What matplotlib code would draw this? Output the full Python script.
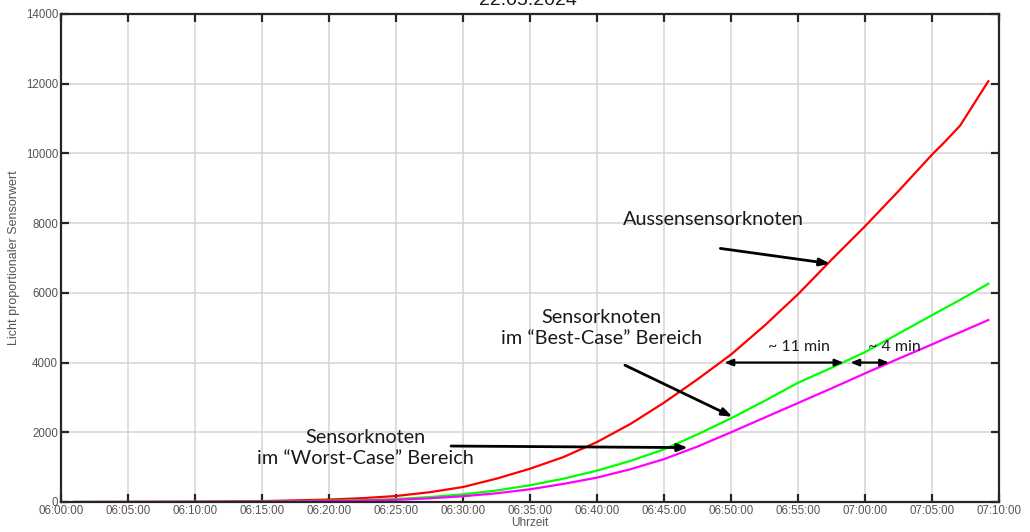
import matplotlib
matplotlib.use("Agg")
import matplotlib.pyplot as plt

# Time axis in minutes after 06:00
minutes = [1, 5, 10, 15, 20, 22.5, 25, 27.5, 30, 32.5, 35, 37.5, 40, 42.5, 45,
           47.5, 50, 52.5, 55, 57.5, 60, 62.5, 65, 66, 67.1, 69.2]

# Outdoor node
aussen = [0, 3, 8, 25, 70, 110, 172, 280, 430, 670, 955, 1290, 1720, 2240, 2850,
          3520, 4230, 5060, 5960, 6950, 7910, 8920, 9965, 10350, 10800, 12070]
# Node in best-case area
best_case = [0, 1, 4, 12, 35, 55, 85, 140, 220, 330, 480, 670, 900, 1180, 1510,
             1940, 2400, 2900, 3420, 3850, 4300, 4830, 5360, 5570, 5800, 6260]
# Node in worst-case area
worst_case = [0, 1, 3, 9, 25, 40, 62, 105, 165, 250, 365, 520, 700, 940, 1230,
              1590, 2000, 2420, 2840, 3260, 3690, 4110, 4520, 4690, 4870, 5220]

tick_minutes = list(range(0, 71, 5))
tick_labels = ["06:00:00", "06:05:00", "06:10:00", "06:15:00", "06:20:00", "06:25:00",
               "06:30:00", "06:35:00", "06:40:00", "06:45:00", "06:50:00", "06:55:00",
               "07:00:00", "07:05:00", "07:10:00"]
y_ticks = [0, 2000, 4000, 6000, 8000, 10000, 12000, 14000]

fig = plt.figure(figsize=(10.30, 5.32), dpi=100)
ax = fig.add_axes([61 / 1030, 1 - 502 / 532, 938 / 1030, 488 / 532])

ax.plot(minutes, aussen, color="#ff0000", lw=1.6)
ax.plot(minutes, best_case, color="#00ff00", lw=1.6)
ax.plot(minutes, worst_case, color="#ff00ff", lw=1.6)

ax.set_xlim(0, 70)
ax.set_ylim(0, 14000)
ax.set_xticks(tick_minutes)
ax.set_xticklabels(tick_labels)
ax.set_yticks(y_ticks)
ax.grid(True, color="#d4d4d4", lw=1.1)
ax.set_axisbelow(True)
for s in ax.spines.values():
    s.set_linewidth(1.6)
    s.set_color("#262626")
ax.tick_params(direction="in", length=6, width=1.6, color="#262626",
               labelsize=8.3, labelcolor="#555555", top=True, right=True,
               labelfontfamily="Liberation Sans", pad=2)
ax.set_xlabel("Uhrzeit", fontsize=8.5, color="#555555", family="Liberation Sans", labelpad=0)
ax.set_ylabel("Licht proportionaler Sensorwert", fontsize=9, color="#555555",
              family="Liberation Sans", labelpad=4)

fig.text(528 / 1030, 1 - 5 / 532, "22.05.2024", ha="center", va="baseline",
         fontsize=14, family="Liberation Sans", color="#1a1a1a")

note_font = dict(family="Lato", fontsize=14.3, color="#1a1a1a")
arrow = dict(arrowstyle="-|>,head_length=0.6,head_width=0.22", color="black", lw=2)

ax.text(48.7, 8118, "Aussensensorknoten", ha="center", va="center", **note_font)
ax.annotate("", xy=(57.6, 6827), xytext=(49.0, 7286), arrowprops=arrow)

ax.text(40.3, 4990, "Sensorknoten\nim \u201cBest-Case\u201d Bereich", ha="center", va="center",
        linespacing=1.3, **note_font)
ax.annotate("", xy=(50.3, 2410), xytext=(41.9, 3959), arrowprops=arrow)

ax.text(22.7, 1550, "Sensorknoten\nim \u201cWorst-Case\u201d Bereich", ha="center", va="center",
        linespacing=1.3, **note_font)
ax.annotate("", xy=(47.0, 1560), xytext=(28.9, 1606), arrowprops=arrow)

dbl = dict(arrowstyle="<|-|>,head_length=0.5,head_width=0.2", color="black", lw=1.6,
           shrinkA=0, shrinkB=0)
ax.annotate("", xy=(58.4, 4000), xytext=(49.5, 4000), arrowprops=dbl)
ax.annotate("", xy=(61.8, 4000), xytext=(58.9, 4000), arrowprops=dbl)
ax.text(55.1, 4446, "~ 11 min", ha="center", va="center", family="Lato",
        fontsize=11.5, color="#1a1a1a")
ax.text(62.2, 4446, "~ 4 min", ha="center", va="center", family="Lato",
        fontsize=11.5, color="#1a1a1a")

fig.savefig("out.png", dpi=100)
